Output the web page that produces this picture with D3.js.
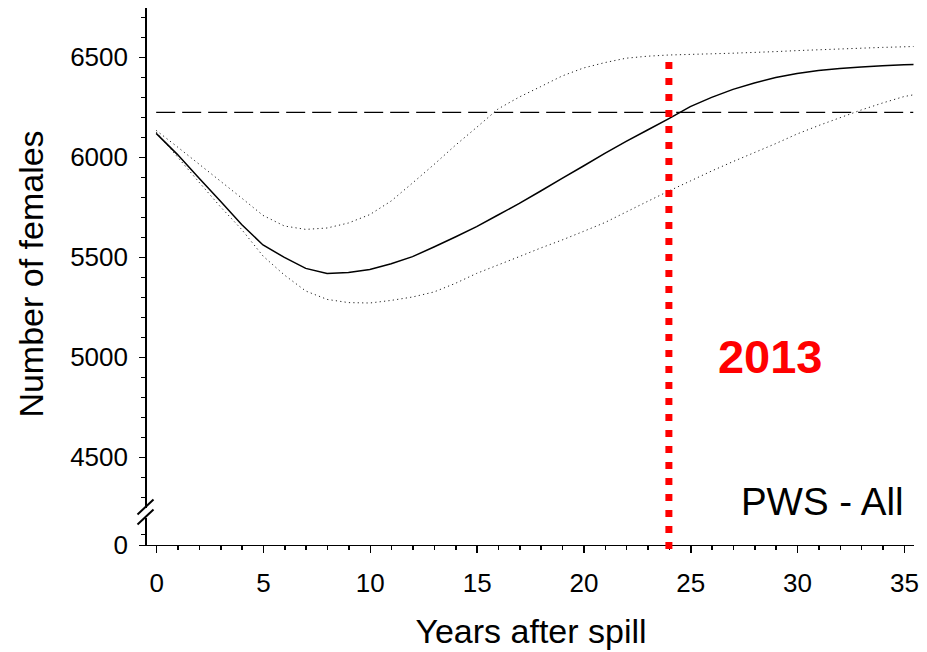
<!DOCTYPE html>
<html>
<head>
<meta charset="utf-8">
<title>PWS - All</title>
<script src="https://cdn.jsdelivr.net/npm/d3@7"></script>
<style>
  body { margin: 0; background: #fff; }
  svg { display: block; font-family: Arial, "Liberation Sans", sans-serif; }
  .axis path, .axis line { stroke: #000; stroke-width: 1.5; fill: none; shape-rendering: crispEdges; }
  .axis text { font-size: 26px; fill: #000; }
  .mean { fill: none; stroke: #000; stroke-width: 1.5; }
  .bound { fill: none; stroke: #222; stroke-width: 1; stroke-dasharray: 1.2,3.2; }
  .target { stroke: #000; stroke-width: 1.4; stroke-dasharray: 19,7; }
  .spill { stroke: #ff0000; stroke-width: 7; stroke-dasharray: 7,9; }
  .breakMark { stroke: #000; stroke-width: 2; }
</style>
</head>
<body>
<script>
// *************************************************** //
// chart data
var years = [0, 1, 2, 3, 4, 5, 6, 7, 8, 9, 10, 11, 12, 13, 14, 15, 16, 17, 18,
             19, 20, 21, 22, 23, 24, 25, 26, 27, 28, 29, 30, 31, 32, 33, 34, 35, 36];
// mean projection (solid line)
var meanFemales = [6118, 6012, 5895, 5780, 5662, 5560, 5498, 5443, 5418, 5422, 5438, 5466, 5502,
                   5550, 5600, 5652, 5710, 5768, 5830, 5893, 5955, 6018, 6078, 6135, 6192, 6252,
                   6298, 6338, 6370, 6397, 6418, 6432, 6443, 6450, 6456, 6461, 6465];
// upper confidence limit (dotted)
var upperFemales = [6133, 6050, 5965, 5880, 5795, 5708, 5655, 5638, 5645, 5670, 5712, 5780, 5870,
                    5962, 6058, 6148, 6240, 6300, 6352, 6405, 6445, 6472, 6494, 6504, 6510, 6513,
                    6516, 6519, 6523, 6527, 6532, 6536, 6540, 6544, 6548, 6551, 6554];
// lower confidence limit (dotted)
var lowerFemales = [6125, 6000, 5875, 5752, 5638, 5505, 5410, 5330, 5288, 5272, 5270, 5283, 5300,
                    5325, 5368, 5418, 5460, 5502, 5545, 5585, 5628, 5672, 5725, 5778, 5830, 5880,
                    5930, 5977, 6022, 6067, 6115, 6157, 6196, 6235, 6270, 6302, 6322];
// pre-spill level (dashed line)
var targetLevel = 6223;
// year of recovery (red dotted line)
var spillYear = 24;
var recoveryLabel = "2013";
var panelLabel = "PWS - All";
// tick values
var xTicks = [0, 5, 10, 15, 20, 25, 30, 35];
var yTicks = [4500, 5000, 5500, 6000, 6500];
var yLowTicks = [0];

(function(){

  // begin script when window loads
  window.onload = setChart();

  // *************************************************** //
  function setChart(){
    var width = 927,
        height = 652;

    var svg = d3.select("body")
      .append("svg")
      .attr("width", width)
      .attr("height", height);

    // scales: upper (broken) y segment, lower y segment with zero
    var x = d3.scaleLinear()
      .domain([-0.5, 35.45])
      .range([145.5, 913.5]);

    var y = d3.scaleLinear()
      .domain([4250, 6750])
      .range([507, 7]);

    var yLow = d3.scaleLinear()
      .domain([0, 250])
      .range([545, 517]);

    // clip curves to the plot frame
    svg.append("clipPath")
      .attr("id", "plotClip")
      .append("rect")
      .attr("x", x.range()[0])
      .attr("y", 0)
      .attr("width", x.range()[1] - x.range()[0])
      .attr("height", yLow.range()[0]);

    setAxes(svg, x, y, yLow);
    setLines(svg, x, y, yLow);
    setLabels(svg, x, y, yLow);
  };

  // *************************************************** //
  function setAxes(svg, x, y, yLow){
    var zeroY = yLow(0);
    var fmt = d3.format("d");

    // x axis, major and minor ticks
    svg.append("g")
      .attr("class", "axis")
      .attr("transform", "translate(0," + zeroY + ")")
      .call(d3.axisBottom(x).tickValues(d3.range(0, 36)).tickSize(5).tickSizeOuter(0).tickFormat(""));

    svg.append("g")
      .attr("class", "axis")
      .attr("transform", "translate(0," + zeroY + ")")
      .call(d3.axisBottom(x).tickValues(xTicks).tickSize(8).tickSizeOuter(0).tickPadding(21).tickFormat(fmt));

    // y axis, upper segment
    var axisX = x.range()[0];
    svg.append("g")
      .attr("class", "axis")
      .attr("transform", "translate(" + axisX + ",0)")
      .call(d3.axisLeft(y).tickValues(d3.range(4300, 6800, 100)).tickSize(5).tickSizeOuter(0).tickFormat(""));

    svg.append("g")
      .attr("class", "axis")
      .attr("transform", "translate(" + axisX + ",0)")
      .call(d3.axisLeft(y).tickValues(yTicks).tickSize(7).tickSizeOuter(0).tickPadding(10.5).tickFormat(fmt));

    // y axis, lower segment below the break
    svg.append("g")
      .attr("class", "axis")
      .attr("transform", "translate(" + axisX + ",0)")
      .call(d3.axisLeft(yLow).tickValues([100]).tickSize(5).tickSizeOuter(0).tickFormat(""));

    svg.append("g")
      .attr("class", "axis")
      .attr("transform", "translate(" + axisX + ",0)")
      .call(d3.axisLeft(yLow).tickValues(yLowTicks).tickSize(7).tickSizeOuter(0).tickPadding(10.5).tickFormat(fmt));

    // break marks
    var breaks = [y.range()[0], yLow.range()[1]];
    svg.selectAll(".breakMark")
      .data(breaks)
      .enter()
      .append("line")
      .attr("class", "breakMark")
      .attr("x1", axisX - 8)
      .attr("x2", axisX + 8)
      .attr("y1", function(d){ return d + 7.5; })
      .attr("y2", function(d){ return d - 7.5; });
  };

  // *************************************************** //
  function setLines(svg, x, y, yLow){
    var plot = svg.append("g")
      .attr("clip-path", "url(#plotClip)");

    // pre-spill level
    plot.append("line")
      .attr("class", "target")
      .attr("x1", x(years[0]))
      .attr("x2", x.range()[1])
      .attr("y1", y(targetLevel))
      .attr("y2", y(targetLevel));

    var line = d3.line()
      .x(function(d){ return x(d[0]); })
      .y(function(d){ return y(d[1]); });

    var series = [
      { cls: "bound", values: upperFemales },
      { cls: "bound", values: lowerFemales },
      { cls: "mean", values: meanFemales }
    ];

    plot.selectAll(".series")
      .data(series)
      .enter()
      .append("path")
      .attr("class", function(d){ return "series " + d.cls; })
      .attr("d", function(d){
        return line(years.map(function(yr, i){ return [yr, d.values[i]]; }));
      });

    // recovery year marker
    svg.append("line")
      .attr("class", "spill")
      .attr("x1", x(spillYear))
      .attr("x2", x(spillYear))
      .attr("y1", y(6475))
      .attr("y2", yLow(0) + 4);
  };

  // *************************************************** //
  function setLabels(svg, x, y, yLow){
    svg.append("text")
      .attr("x", x(spillYear) + 49)
      .attr("y", y(5000) + 16)
      .attr("font-size", 47)
      .attr("font-weight", "bold")
      .attr("fill", "#ff0000")
      .text(recoveryLabel);

    svg.append("text")
      .attr("x", x.range()[1] - 10)
      .attr("y", yLow(0) - 30)
      .attr("text-anchor", "end")
      .attr("font-size", 38.5)
      .text(panelLabel);

    // axis titles
    svg.append("text")
      .attr("x", 531)
      .attr("y", 643)
      .attr("text-anchor", "middle")
      .attr("font-size", 34)
      .text("Years after spill");

    svg.append("text")
      .attr("transform", "translate(43,274) rotate(-90)")
      .attr("text-anchor", "middle")
      .attr("font-size", 34)
      .text("Number of females");
  };

})();
</script>
</body>
</html>
